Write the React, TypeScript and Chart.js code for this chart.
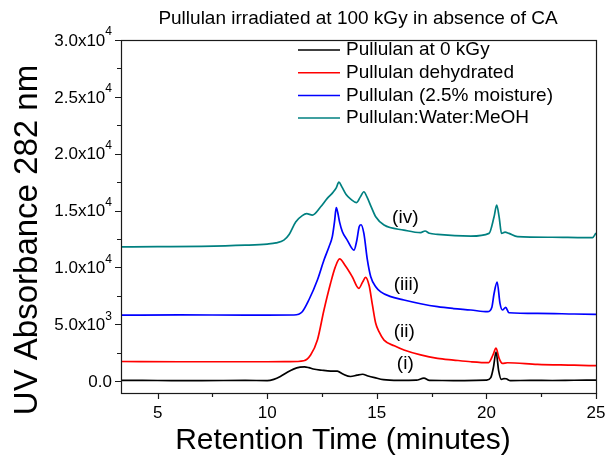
import React, { useEffect, useRef } from 'react';
import { Chart, registerables } from 'chart.js';

Chart.register(...registerables);

const TITLE = 'Pullulan irradiated at 100 kGy in absence of CA';
const X_TITLE = 'Retention Time (minutes)';
const Y_TITLE = 'UV Absorbance 282 nm';

const SERIES_NAMES = [
  'Pullulan at 0 kGy',
  'Pullulan dehydrated',
  'Pullulan (2.5% moisture)',
  'Pullulan:Water:MeOH',
];
const SERIES_COLORS = ['#000000', '#ff0000', '#0000ff', '#008080'];

const PEAK_LABELS = ['(i)', '(ii)', '(iii)', '(iv)'];
const PEAK_LABEL_X = [16.3, 16.25, 16.35, 16.3];
const PEAK_LABEL_Y = [1550, 4300, 8450, 14350];

const X_MIN = 3.33;
const X_MAX = 25;
const Y_MIN = -1050;
const Y_MAX = 30000;
const X_MAJOR_TICKS = [5, 10, 15, 20, 25];
const X_MINOR_TICKS = [7.5, 12.5, 17.5, 22.5];
const Y_MAJOR_TICKS = [0, 5000, 10000, 15000, 20000, 25000, 30000];
const Y_MINOR_TICKS = [2500, 7500, 12500, 17500, 22500, 27500];
const Y_TICK_MANTISSA = ['0.0', '5.0x10', '1.0x10', '1.5x10', '2.0x10', '2.5x10', '3.0x10'];
const Y_TICK_EXPONENT = ['', '3', '4', '4', '4', '4', '4'];

// (i) Pullulan at 0 kGy
const TIME_I = [3.33, 5, 7, 9, 10, 10.3, 10.6, 10.9, 11.2, 11.5, 11.7, 11.9, 12.1, 12.5, 12.9, 13.2, 13.45, 13.8, 14.1, 14.35, 14.6, 14.9, 15.3, 16, 16.8, 17.15, 17.4, 18, 19, 20, 20.2, 20.32, 20.44, 20.56, 20.68, 20.8, 20.9, 21.1, 22, 23, 24, 25];
const ABS_I = [60, 50, 40, 60, 40, 150, 400, 750, 1050, 1220, 1250, 1180, 1060, 950, 880, 870, 620, 400, 520, 600, 450, 300, 120, 60, 80, 250, 60, 50, 40, 80, 300, 1200, 2550, 900, 150, 220, 200, 40, 60, 50, 70, 80];

// (ii) Pullulan dehydrated
const TIME_II = [3.33, 6, 9, 10, 11, 11.67, 11.98, 12.29, 12.59, 12.89, 13.1, 13.3, 13.58, 13.88, 14.18, 14.35, 14.49, 14.65, 14.8, 14.95, 15.1, 15.33, 15.8, 16.24, 17, 17.77, 18.5, 19.29, 20.1, 20.3, 20.44, 20.58, 20.73, 20.96, 22.33, 24, 25];
const ABS_II = [1720, 1700, 1700, 1700, 1710, 1790, 2290, 3610, 6250, 8600, 10000, 10750, 10100, 9180, 8150, 8700, 9120, 8400, 6700, 5080, 4340, 3600, 3100, 2730, 2300, 2000, 1850, 1700, 1620, 2300, 2900, 2000, 1560, 1610, 1470, 1400, 1350];

// (iii) Pullulan (2.5% moisture)
const TIME_III = [3.33, 6, 9, 10, 11.22, 11.6, 11.9, 12.29, 12.59, 12.82, 12.97, 13.07, 13.15, 13.22, 13.3, 13.43, 13.65, 13.96, 14.08, 14.2, 14.28, 14.41, 14.57, 14.72, 14.95, 15.18, 15.6, 16.24, 17, 17.77, 18.5, 19.29, 20.05, 20.25, 20.35, 20.49, 20.62, 20.73, 20.88, 21.03, 22.33, 24, 25];
const ABS_III = [5800, 5820, 5800, 5800, 5810, 6100, 7130, 8890, 10650, 11820, 12700, 14000, 15250, 14800, 14000, 13130, 12400, 11520, 12300, 13600, 13750, 12990, 10650, 9200, 8300, 7850, 7450, 7130, 6800, 6540, 6380, 6250, 6100, 6500, 7700, 8700, 6830, 6250, 6480, 6010, 5950, 5900, 5870];

// (iv) Pullulan:Water:MeOH
const TIME_IV = [3.33, 5, 7, 9, 10, 10.4, 10.76, 11.0, 11.3, 11.6, 11.8, 12.06, 12.44, 12.74, 13.0, 13.15, 13.27, 13.4, 13.6, 13.81, 14.08, 14.25, 14.41, 14.55, 14.75, 14.95, 15.33, 16.24, 17.0, 17.2, 17.4, 17.77, 19.29, 20.12, 20.35, 20.47, 20.58, 20.69, 20.85, 21.03, 21.42, 23, 24.5, 24.84, 25];
const ABS_IV = [11800, 11820, 11850, 11950, 12050, 12150, 12400, 12900, 14000, 14550, 14720, 14600, 15330, 16070, 16600, 17000, 17500, 17100, 16400, 16000, 15700, 16200, 16650, 16200, 15300, 14450, 13720, 13280, 13050, 13200, 13000, 12900, 12750, 12990, 14450, 15480, 14450, 12990, 13100, 12990, 12700, 12650, 12610, 12620, 13020];

const SERIES_TIME = [TIME_I, TIME_II, TIME_III, TIME_IV];
const SERIES_ABS = [ABS_I, ABS_II, ABS_III, ABS_IV];

const FONT = '"Liberation Sans", Arial, Helvetica, sans-serif';

const decorPlugin = {
  id: 'decor',
  afterDraw(chart: any) {
    const { ctx, chartArea } = chart;
    const xs = chart.scales.x;
    const ys = chart.scales.y;
    const { left, right, top, bottom } = chartArea;
    ctx.save();
    ctx.strokeStyle = '#1a1a1a';
    ctx.lineWidth = 1.2;
    ctx.strokeRect(Math.round(left) + 0.5, Math.round(top) + 0.5, Math.round(right - left), Math.round(bottom - top));

    // tick marks
    ctx.beginPath();
    X_MAJOR_TICKS.forEach((v) => {
      const px = Math.round(xs.getPixelForValue(v)) + 0.5;
      ctx.moveTo(px, bottom);
      ctx.lineTo(px, bottom + 6);
    });
    X_MINOR_TICKS.forEach((v) => {
      const px = Math.round(xs.getPixelForValue(v)) + 0.5;
      ctx.moveTo(px, bottom);
      ctx.lineTo(px, bottom + 4);
    });
    Y_MAJOR_TICKS.forEach((v) => {
      const py = Math.round(ys.getPixelForValue(v)) + 0.5;
      ctx.moveTo(left, py);
      ctx.lineTo(left - 6, py);
    });
    Y_MINOR_TICKS.forEach((v) => {
      const py = Math.round(ys.getPixelForValue(v)) + 0.5;
      ctx.moveTo(left, py);
      ctx.lineTo(left - 4, py);
    });
    ctx.stroke();

    ctx.fillStyle = '#000';
    // x tick labels
    ctx.font = `17px ${FONT}`;
    ctx.textAlign = 'center';
    ctx.textBaseline = 'middle';
    X_MAJOR_TICKS.forEach((v) => {
      ctx.fillText(String(v), xs.getPixelForValue(v), bottom + 20);
    });

    // y tick labels with superscript exponent
    Y_MAJOR_TICKS.forEach((v, i) => {
      const py = ys.getPixelForValue(v);
      const mant = Y_TICK_MANTISSA[i];
      const exp = Y_TICK_EXPONENT[i];
      const rightEdge = left - 9;
      ctx.textBaseline = 'middle';
      ctx.textAlign = 'right';
      if (exp) {
        ctx.font = `12px ${FONT}`;
        const ew = ctx.measureText(exp).width;
        ctx.fillText(exp, rightEdge, py - 8);
        ctx.font = `17px ${FONT}`;
        ctx.fillText(mant, rightEdge - ew, py + 1);
      } else {
        ctx.font = `17px ${FONT}`;
        ctx.fillText(mant, rightEdge, py + 1);
      }
    });

    // title
    ctx.font = `19px ${FONT}`;
    ctx.textAlign = 'center';
    ctx.textBaseline = 'middle';
    ctx.fillText(TITLE, 358, 19);

    // x axis title
    ctx.font = `30px ${FONT}`;
    ctx.fillText(X_TITLE, 343, 441);

    // y axis title
    ctx.save();
    ctx.translate(28, 240);
    ctx.rotate(-Math.PI / 2);
    ctx.font = `33px ${FONT}`;
    ctx.textAlign = 'center';
    ctx.textBaseline = 'middle';
    ctx.fillText(Y_TITLE, 0, 0);
    ctx.restore();

    // legend
    ctx.font = `19px ${FONT}`;
    ctx.textAlign = 'left';
    ctx.textBaseline = 'middle';
    SERIES_NAMES.forEach((name, i) => {
      const y = 50 + i * 22.7;
      ctx.strokeStyle = SERIES_COLORS[i];
      ctx.lineWidth = 1.5;
      ctx.beginPath();
      ctx.moveTo(298, y);
      ctx.lineTo(340, y);
      ctx.stroke();
      ctx.fillStyle = '#000';
      ctx.fillText(name, 346, y);
    });

    // peak labels
    ctx.font = `19px ${FONT}`;
    ctx.textAlign = 'center';
    ctx.textBaseline = 'middle';
    PEAK_LABELS.forEach((lab, i) => {
      ctx.fillText(lab, xs.getPixelForValue(PEAK_LABEL_X[i]), ys.getPixelForValue(PEAK_LABEL_Y[i]));
    });
    ctx.restore();
  },
};

export default function App() {
  const canvasRef = useRef<HTMLCanvasElement | null>(null);

  useEffect(() => {
    document.body.style.margin = '0';
    const canvas = canvasRef.current;
    if (!canvas) return;
    const datasets = SERIES_NAMES.map((name, i) => ({
      label: name,
      data: SERIES_TIME[i].map((t, j) => ({ x: t, y: SERIES_ABS[i][j] })),
      borderColor: SERIES_COLORS[i],
      backgroundColor: SERIES_COLORS[i],
      borderWidth: 1.7,
      pointRadius: 0,
      cubicInterpolationMode: 'monotone' as const,
      fill: false,
    }));
    const chart = new Chart(canvas, {
      type: 'line',
      data: { datasets },
      options: {
        responsive: false,
        animation: false,
        layout: { padding: { left: 121, right: 9, top: 40, bottom: 66 } },
        plugins: { legend: { display: false }, title: { display: false }, tooltip: { enabled: false } },
        scales: {
          x: { type: 'linear', min: X_MIN, max: X_MAX, display: false },
          y: { type: 'linear', min: Y_MIN, max: Y_MAX, display: false },
        },
      },
      plugins: [decorPlugin],
    });
    return () => chart.destroy();
  }, []);

  return (
    <div style={{ position: 'absolute', left: 0, top: 0, width: 605, height: 459, background: '#fff' }}>
      <canvas ref={canvasRef} width={605} height={459} />
    </div>
  );
}
